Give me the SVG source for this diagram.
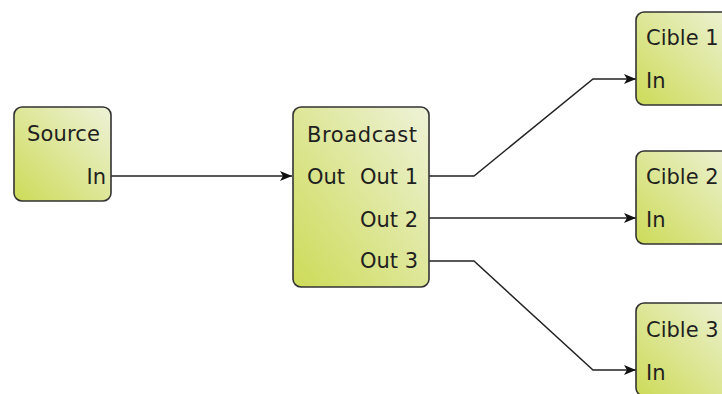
<svg xmlns="http://www.w3.org/2000/svg" width="722" height="394" viewBox="0 0 722 394">
<defs>
<linearGradient id="g" x1="0" y1="1" x2="1" y2="0">
<stop offset="0" stop-color="#cddb58"/>
<stop offset="1" stop-color="#eef2d8"/>
</linearGradient>
<marker id="arr" viewBox="0 0 12 10" refX="12" refY="5" markerWidth="12" markerHeight="10" markerUnits="userSpaceOnUse" orient="auto">
<path d="M0,0 L12,5 L0,10 L3,5 Z" fill="#111"/>
</marker>
<style>
.box{fill:url(#g);stroke:#333;stroke-width:1.6}
text{font-family:"DejaVu Sans","Liberation Sans",sans-serif;font-size:21px;fill:#1f1f1f}
.r{text-anchor:end}
.c{fill:none;stroke:#222;stroke-width:1.5}
</style>
</defs>
<rect width="722" height="394" fill="#fff"/>
<g id="connectors">
<path class="c" d="M111,176 H292" marker-end="url(#arr)"/>
<path class="c" d="M429,176 H474 L593,79 H636" marker-end="url(#arr)"/>
<path class="c" d="M429,218 H636" marker-end="url(#arr)"/>
<path class="c" d="M429,261 H474 L593,370 H636" marker-end="url(#arr)"/>
</g>
<g id="source">
<rect class="box" x="14" y="107" width="97" height="94" rx="8"/>
<text x="27" y="141" textLength="73">Source</text>
<text class="r" x="106" y="184">In</text>
</g>
<g id="broadcast">
<rect class="box" x="293" y="107" width="136" height="180" rx="8"/>
<text x="307" y="142" textLength="110">Broadcast</text>
<text x="307" y="184">Out</text>
<text class="r" x="418" y="184">Out 1</text>
<text class="r" x="418" y="227">Out 2</text>
<text class="r" x="418" y="268">Out 3</text>
</g>
<g id="cible1">
<rect class="box" x="636" y="12" width="100" height="93" rx="8"/>
<text x="646" y="45">Cible 1</text>
<text x="646" y="88">In</text>
</g>
<g id="cible2">
<rect class="box" x="636" y="151" width="100" height="93" rx="8"/>
<text x="646" y="184">Cible 2</text>
<text x="646" y="227">In</text>
</g>
<g id="cible3">
<rect class="box" x="636" y="303" width="100" height="93" rx="8"/>
<text x="646" y="337">Cible 3</text>
<text x="646" y="380">In</text>
</g>
</svg>
